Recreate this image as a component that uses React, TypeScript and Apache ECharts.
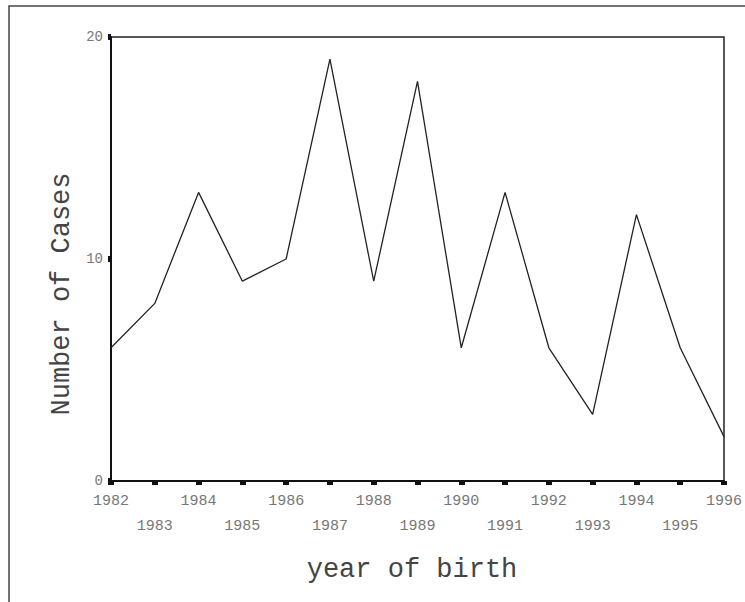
import React, { useEffect, useRef } from "react";
import * as echarts from "echarts";

const years = ["1982","1983","1984","1985","1986","1987","1988","1989","1990","1991","1992","1993","1994","1995","1996"];
const cases = [6, 8, 13, 9, 10, 19, 9, 18, 6, 13, 6, 3, 12, 6, 2];
const yTicks = [0, 10, 20];
const xTitle = "year of birth";
const yTitle = "Number of Cases";

const FONT = "'Liberation Mono', 'DejaVu Sans Mono', monospace";

export default function App() {
  const ref = useRef<HTMLDivElement>(null);
  useEffect(() => {
    if (!ref.current) return;
    const chart = echarts.init(ref.current, undefined, { renderer: "svg" });
    chart.setOption({
      animation: false,
      backgroundColor: "#ffffff",
      grid: {
        left: 111,
        right: 21,
        top: 37,
        bottom: 121,
        show: true,
        borderColor: "#222",
        borderWidth: 1.5,
        containLabel: false,
      },
      xAxis: {
        type: "category",
        data: years,
        boundaryGap: false,
        axisLine: { lineStyle: { color: "#111", width: 2 } },
        axisTick: { show: true, interval: 0, length: 4, lineStyle: { color: "#111", width: 6 } },
        axisLabel: {
          interval: 0,
          color: "#777",
          fontFamily: FONT,
          fontSize: 15,
          lineHeight: 25,
          margin: 8,
          formatter: (v: string, i: number) => (i % 2 === 1 ? "\n" + v : v),
        },
        splitLine: { show: false },
      },
      yAxis: {
        type: "value",
        min: yTicks[0],
        max: yTicks[yTicks.length - 1],
        interval: 10,
        axisLine: { show: true, lineStyle: { color: "#111", width: 2 } },
        axisTick: { show: true, length: 3, lineStyle: { color: "#111", width: 6 } },
        axisLabel: { color: "#777", fontFamily: FONT, fontSize: 14, margin: 8 },
        splitLine: { show: false },
      },
      series: [
        {
          type: "line",
          data: cases,
          symbol: "none",
          lineStyle: { color: "#222", width: 1.3 },
        },
      ],
      graphic: [
        {
          type: "rect",
          shape: { x: 9, y: 6, width: 900, height: 800 },
          style: { fill: "none", stroke: "#444", lineWidth: 1.5 },
          silent: true,
        },
        {
          type: "text",
          x: 412,
          y: 570,
          style: {
            text: xTitle,
            fontFamily: FONT,
            fontSize: 27,
            fill: "#444",
            align: "center",
            verticalAlign: "middle",
          },
        },
        {
          type: "text",
          x: 62,
          y: 294,
          rotation: Math.PI / 2,
          style: {
            text: yTitle,
            fontFamily: FONT,
            fontSize: 27,
            fill: "#444",
            align: "center",
            verticalAlign: "middle",
          },
        },
      ],
    });
    return () => chart.dispose();
  }, []);
  return (
    <div
      ref={ref}
      style={{ position: "fixed", left: 0, top: 0, width: 745, height: 602, background: "#fff" }}
    />
  );
}
